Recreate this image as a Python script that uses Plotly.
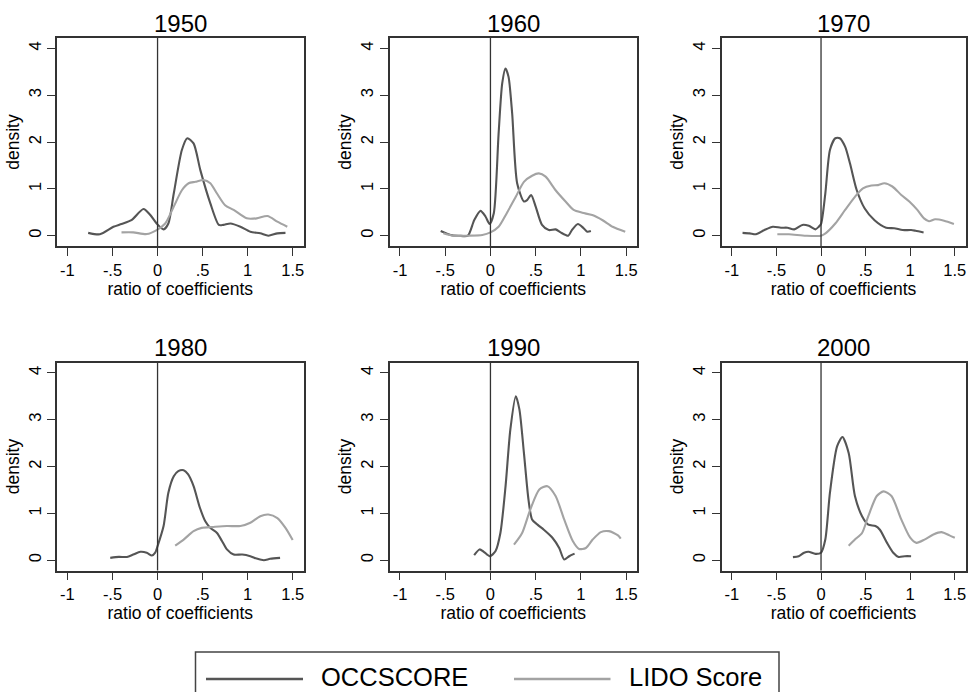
import plotly.graph_objects as go
from plotly.subplots import make_subplots

years = ["1950", "1960", "1970", "1980", "1990", "2000"]
series_names = ["OCCSCORE", "LIDO Score"]
x_tickvals = [-1, -0.5, 0, 0.5, 1, 1.5]
x_ticktext = ["-1", "-.5", "0", ".5", "1", "1.5"]
y_tickvals = [0, 1, 2, 3, 4]
y_ticktext = ["0", "1", "2", "3", "4"]

# ---- OCCSCORE densities ----
occ_1950_x = [-0.77, -0.64, -0.49, -0.40, -0.29, -0.156, -0.08, -0.01, 0.067, 0.12, 0.18, 0.27, 0.33, 0.40, 0.475, 0.586, 0.68, 0.73, 0.81, 0.92, 1.03, 1.14, 1.23, 1.33, 1.42]
occ_1950_y = [0.06, 0.03, 0.19, 0.25, 0.33, 0.57, 0.44, 0.26, 0.135, 0.26, 0.9, 1.83, 2.08, 1.97, 1.40, 0.69, 0.23, 0.23, 0.26, 0.19, 0.085, 0.05, 0.0, 0.05, 0.06]

occ_1960_x = [-0.55, -0.44, -0.35, -0.25, -0.18, -0.11, -0.055, -0.01, 0.037, 0.09, 0.13, 0.166, 0.20, 0.24, 0.295, 0.37, 0.405, 0.45, 0.50, 0.57, 0.645, 0.72, 0.775, 0.86, 0.90, 0.967, 1.03, 1.07, 1.11]
occ_1960_y = [0.10, 0.015, 0.0, 0.0, 0.33, 0.53, 0.41, 0.25, 0.48, 2.18, 3.25, 3.57, 3.39, 2.61, 1.12, 0.73, 0.76, 0.87, 0.62, 0.23, 0.12, 0.135, 0.07, 0.0, 0.12, 0.25, 0.16, 0.085, 0.10]

occ_1970_x = [-0.88, -0.80, -0.73, -0.635, -0.54, -0.45, -0.376, -0.30, -0.21, -0.137, -0.063, -0.026, 0.0, 0.048, 0.10, 0.16, 0.21, 0.27, 0.325, 0.40, 0.49, 0.60, 0.73, 0.82, 0.915, 1.01, 1.06, 1.15]
occ_1970_y = [0.06, 0.05, 0.03, 0.12, 0.19, 0.17, 0.17, 0.135, 0.23, 0.21, 0.135, 0.19, 0.25, 0.9, 1.83, 2.08, 2.08, 1.90, 1.54, 0.975, 0.58, 0.33, 0.17, 0.16, 0.12, 0.12, 0.105, 0.07]

occ_1980_x = [-0.525, -0.43, -0.34, -0.27, -0.19, -0.12, -0.063, -0.026, 0.0, 0.067, 0.12, 0.18, 0.23, 0.29, 0.34, 0.40, 0.47, 0.53, 0.585, 0.66, 0.715, 0.77, 0.845, 0.94, 1.03, 1.10, 1.18, 1.25, 1.36]
occ_1980_y = [0.05, 0.07, 0.07, 0.12, 0.18, 0.16, 0.10, 0.16, 0.30, 0.73, 1.44, 1.79, 1.90, 1.92, 1.83, 1.58, 1.12, 0.83, 0.69, 0.58, 0.41, 0.23, 0.12, 0.12, 0.085, 0.035, 0.0, 0.03, 0.05]

occ_1990_x = [-0.18, -0.12, -0.074, -0.007, 0.055, 0.11, 0.167, 0.22, 0.28, 0.32, 0.37, 0.42, 0.46, 0.52, 0.59, 0.685, 0.76, 0.815, 0.87, 0.93]
occ_1990_y = [0.11, 0.23, 0.18, 0.085, 0.19, 0.58, 1.58, 2.79, 3.50, 3.22, 2.29, 1.30, 0.87, 0.76, 0.65, 0.48, 0.26, 0.015, 0.085, 0.14]

occ_2000_x = [-0.315, -0.25, -0.19, -0.14, -0.063, 0.0, 0.048, 0.10, 0.18, 0.24, 0.31, 0.38, 0.46, 0.53, 0.61, 0.66, 0.74, 0.81, 0.87, 0.94, 1.01]
occ_2000_y = [0.065, 0.085, 0.16, 0.18, 0.135, 0.16, 0.44, 1.44, 2.43, 2.63, 2.29, 1.37, 0.94, 0.76, 0.73, 0.65, 0.37, 0.16, 0.07, 0.085, 0.085]

# ---- LIDO Score densities ----
lido_1950_x = [-0.40, -0.27, -0.12, -0.01, 0.085, 0.18, 0.27, 0.345, 0.42, 0.51, 0.586, 0.66, 0.75, 0.845, 0.99, 1.10, 1.22, 1.33, 1.44]
lido_1950_y = [0.07, 0.07, 0.035, 0.12, 0.26, 0.62, 0.97, 1.12, 1.15, 1.19, 1.12, 0.9, 0.65, 0.55, 0.37, 0.37, 0.42, 0.30, 0.19]

lido_1960_x = [-0.52, -0.42, -0.24, -0.09, 0.0, 0.09, 0.18, 0.28, 0.37, 0.46, 0.535, 0.61, 0.72, 0.83, 0.92, 1.015, 1.125, 1.24, 1.35, 1.49]
lido_1960_y = [0.05, 0.0, 0.0, 0.015, 0.07, 0.19, 0.48, 0.83, 1.15, 1.28, 1.33, 1.26, 0.97, 0.73, 0.55, 0.49, 0.44, 0.33, 0.19, 0.085]

lido_1970_x = [-0.49, -0.36, -0.17, 0.0, 0.05, 0.16, 0.27, 0.38, 0.47, 0.565, 0.64, 0.71, 0.80, 0.90, 0.99, 1.08, 1.155, 1.21, 1.28, 1.38, 1.49]
lido_1970_y = [0.03, 0.03, 0.0, 0.0, 0.05, 0.26, 0.55, 0.83, 1.01, 1.07, 1.08, 1.12, 1.05, 0.87, 0.73, 0.55, 0.37, 0.31, 0.35, 0.32, 0.25]

lido_1980_x = [0.196, 0.29, 0.40, 0.49, 0.62, 0.77, 0.92, 1.03, 1.14, 1.23, 1.33, 1.42, 1.50]
lido_1980_y = [0.31, 0.44, 0.62, 0.69, 0.71, 0.73, 0.73, 0.80, 0.94, 0.975, 0.90, 0.69, 0.43]

lido_1990_x = [0.26, 0.35, 0.44, 0.54, 0.63, 0.72, 0.815, 0.91, 0.98, 1.055, 1.13, 1.22, 1.31, 1.41, 1.44]
lido_1990_y = [0.33, 0.58, 1.08, 1.51, 1.58, 1.37, 0.87, 0.41, 0.24, 0.26, 0.44, 0.60, 0.62, 0.53, 0.46]

lido_2000_x = [0.31, 0.38, 0.46, 0.53, 0.625, 0.70, 0.79, 0.90, 1.0, 1.07, 1.16, 1.26, 1.35, 1.44, 1.50]
lido_2000_y = [0.31, 0.44, 0.58, 0.94, 1.37, 1.47, 1.37, 0.87, 0.48, 0.37, 0.44, 0.55, 0.60, 0.53, 0.48]

occ_x = [occ_1950_x, occ_1960_x, occ_1970_x, occ_1980_x, occ_1990_x, occ_2000_x]
occ_y = [occ_1950_y, occ_1960_y, occ_1970_y, occ_1980_y, occ_1990_y, occ_2000_y]
lido_x = [lido_1950_x, lido_1960_x, lido_1970_x, lido_1980_x, lido_1990_x, lido_2000_x]
lido_y = [lido_1950_y, lido_1960_y, lido_1970_y, lido_1980_y, lido_1990_y, lido_2000_y]

W, H = 972, 692
OCC_COLOR = "#555555"
LIDO_COLOR = "#a3a3a3"
FRAME = "#333333"
FONT = "Liberation Sans, Arial, sans-serif"

# panel boxes in pixels (left, right, top, bottom)
cols_px = [(57, 303.5), (389.5, 637), (721.5, 965.5)]
rows_px = [(38, 246), (362.5, 570.5)]

fig = make_subplots(rows=2, cols=3)

for i in range(6):
    r, c = divmod(i, 3)
    fig.add_trace(go.Scatter(x=occ_x[i], y=occ_y[i], mode="lines", name=series_names[0],
                             line=dict(color=OCC_COLOR, width=2.1, shape="spline", smoothing=0.7),
                             showlegend=False), row=r + 1, col=c + 1)
    fig.add_trace(go.Scatter(x=lido_x[i], y=lido_y[i], mode="lines", name=series_names[1],
                             line=dict(color=LIDO_COLOR, width=2.1, shape="spline", smoothing=0.7),
                             showlegend=False), row=r + 1, col=c + 1)

annotations = []
shapes = []
for i in range(6):
    r, c = divmod(i, 3)
    xl, xr = cols_px[c]
    yt, yb = rows_px[r]
    suffix = "" if i == 0 else str(i + 1)
    fig.layout["xaxis" + suffix].update(
        domain=[xl / W, xr / W], range=[-1.116, 1.62],
        tickvals=x_tickvals, ticktext=x_ticktext,
        showline=True, mirror=True, linecolor=FRAME, linewidth=1.5,
        ticks="outside", ticklen=8, tickwidth=1.2, tickcolor=FRAME,
        showgrid=False, zeroline=False,
        tickfont=dict(size=16.5, color="#000", family=FONT),
        title=dict(text="ratio of coefficients", font=dict(size=17.5, color="#000", family=FONT), standoff=0),
        automargin=False,
    )
    fig.layout["yaxis" + suffix].update(
        domain=[1 - yb / H, 1 - yt / H], range=[-0.22, 4.22],
        tickvals=y_tickvals, ticktext=y_ticktext, tickangle=-90,
        showline=True, mirror=True, linecolor=FRAME, linewidth=1.5,
        ticks="outside", ticklen=8, tickwidth=1.2, tickcolor=FRAME,
        showgrid=False, zeroline=False,
        tickfont=dict(size=16.5, color="#000", family=FONT),
        title=dict(text="density", font=dict(size=17.5, color="#000", family=FONT), standoff=2),
        automargin=False,
    )
    shapes.append(dict(type="line", xref="x" + suffix, yref="y" + suffix + " domain",
                       x0=0, x1=0, y0=0, y1=1, line=dict(color=FRAME, width=1.3)))
    annotations.append(dict(text=years[i], xref="paper", yref="paper",
                            x=(xl + xr) / 2 / W, y=1 - (yt - 15) / H,
                            xanchor="center", yanchor="middle", showarrow=False,
                            font=dict(size=24, color="#000", family=FONT)))

# legend box drawn manually
shapes.append(dict(type="rect", xref="paper", yref="paper",
                   x0=195.5 / W, x1=779 / W, y0=1 - 700 / H, y1=1 - 652 / H,
                   line=dict(color="#444444", width=1.5), fillcolor="rgba(0,0,0,0)"))
shapes.append(dict(type="line", xref="paper", yref="paper",
                   x0=206 / W, x1=303 / W, y0=1 - 679 / H, y1=1 - 679 / H,
                   line=dict(color=OCC_COLOR, width=2.3)))
shapes.append(dict(type="line", xref="paper", yref="paper",
                   x0=514 / W, x1=610.5 / W, y0=1 - 679 / H, y1=1 - 679 / H,
                   line=dict(color=LIDO_COLOR, width=2.3)))
annotations.append(dict(text=series_names[0], xref="paper", yref="paper", x=319 / W, y=1 - 676.5 / H,
                        xanchor="left", yanchor="middle", showarrow=False,
                        font=dict(size=25.5, color="#000", family=FONT)))
annotations.append(dict(text=series_names[1], xref="paper", yref="paper", x=627 / W, y=1 - 676.5 / H,
                        xanchor="left", yanchor="middle", showarrow=False,
                        font=dict(size=25.5, color="#000", family=FONT)))

fig.update_layout(
    width=W, height=H, margin=dict(l=0, r=0, t=0, b=0),
    paper_bgcolor="white", plot_bgcolor="white",
    font=dict(family=FONT, color="#000"),
    shapes=shapes, annotations=annotations, showlegend=False,
)

fig.write_html("out.html", config={"displayModeBar": False},
               post_script="document.body.style.margin='0px';document.body.style.overflow='hidden';")
